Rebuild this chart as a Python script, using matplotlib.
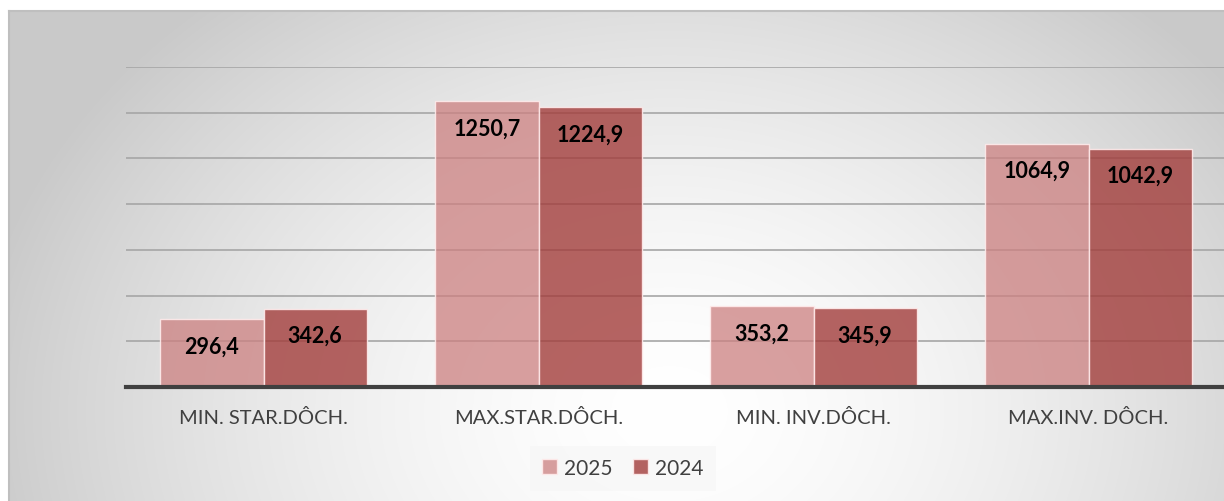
import numpy as np
import matplotlib.pyplot as plt

# data
categories = ['MIN. STAR.DÔCH.', 'MAX.STAR.DÔCH.', 'MIN. INV.DÔCH.', 'MAX.INV. DÔCH.']
vals_2025 = [296.4, 1250.7, 353.2, 1064.9]
vals_2024 = [342.6, 1224.9, 345.9, 1042.9]
series_names = ['2025', '2024']

W, H = 1224, 502
plt.rcParams['font.family'] = ['Lato', 'DejaVu Sans']

fig = plt.figure(figsize=(W / 100, H / 100), dpi=100)
fig.patch.set_facecolor('white')

# gradient background of the chart area
bg = fig.add_axes([9 / W, 0, 1, 1 - 12 / H])
yy, xx = np.mgrid[0:H, 0:W]
r = np.sqrt(((xx - 660) / 700.0) ** 2 + ((yy - 410) / 560.0) ** 2)
g = 1 - 0.21 * np.clip(r, 0, 1.0) ** 1.6
bg.imshow(np.dstack([g, g, g]), aspect='auto', extent=[0, 1, 0, 1], origin='upper')
bg.set_xlim(0, 1)
bg.set_ylim(0, 1)
bg.set_xticks([])
bg.set_yticks([])
for s in ['right', 'bottom']:
    bg.spines[s].set_visible(False)
for s in ['top', 'left']:
    bg.spines[s].set_color('#bfbfbf')
    bg.spines[s].set_linewidth(1.5)

# plot area
ax = fig.add_axes([126 / W, 1 - 388 / H, 1100 / W, 320 / H])
ax.set_facecolor('none')

x = np.arange(len(categories))
w = 0.375
c25 = (0.80, 0.50, 0.50, 0.75)
c24 = (0.635, 0.24, 0.23, 0.80)
edge = (1, 0.92, 0.92, 0.9)
b1 = ax.bar(x - w / 2, vals_2025, w, color=c25, edgecolor=edge, linewidth=1, label=series_names[0], zorder=3)
b2 = ax.bar(x + w / 2, vals_2024, w, color=c24, edgecolor=edge, linewidth=1, label=series_names[1], zorder=3)

for bars, vals in [(b1, vals_2025), (b2, vals_2024)]:
    for b, v in zip(bars, vals):
        ax.annotate(f'{v:.1f}'.replace('.', ','), (b.get_x() + b.get_width() / 2, v),
                    xytext=(0, -27), textcoords='offset pixels',
                    ha='center', va='center', fontsize=15.5, fontweight='bold', color='black', zorder=5)

ax.set_xlim(-0.5, 3.5)
ax.set_ylim(0, 1400)
ax.set_yticks(np.arange(200, 1401, 200))
ax.yaxis.grid(True, color='#a6a6a6', linewidth=1.2, zorder=1)
ax.set_axisbelow(True)
ax.tick_params(axis='y', length=0, labelleft=False)
ax.set_xticks(x)
ax.set_xticklabels(categories, fontsize=14.5, color='#404040')
ax.tick_params(axis='x', length=0, pad=15)
for s in ['top', 'right', 'left']:
    ax.spines[s].set_visible(False)
ax.spines['bottom'].set_color('#404040')
ax.spines['bottom'].set_linewidth(3)
ax.spines['bottom'].set_zorder(4)

leg = fig.legend(handles=[b1, b2], loc='center', bbox_to_anchor=(623 / W, 1 - 469 / H), ncol=2,
                 frameon=True, fontsize=15, handlelength=0.7, handleheight=0.7, handletextpad=0.35,
                 columnspacing=1.0, borderpad=0.6, fancybox=False)
leg.get_frame().set_facecolor('#f7f7f7')
leg.get_frame().set_edgecolor('none')
for t in leg.get_texts():
    t.set_color('#404040')

fig.savefig('out.png', dpi=100)
